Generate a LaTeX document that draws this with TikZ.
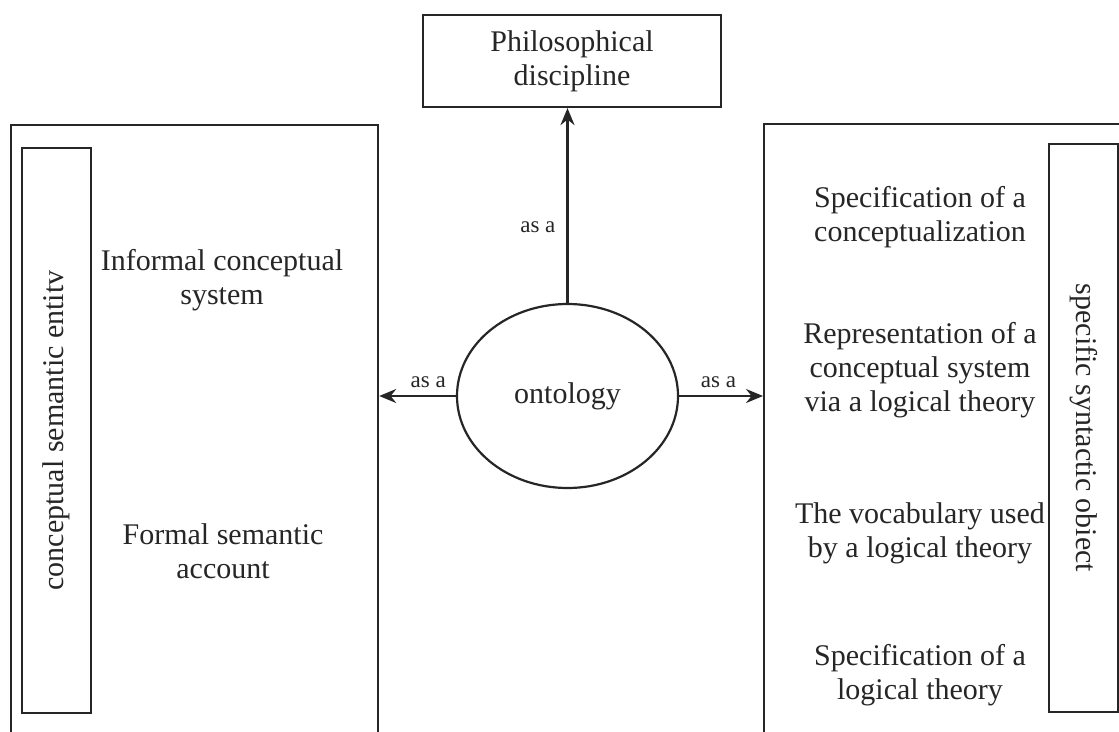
\documentclass[tikz,border=0pt]{standalone}
\usepackage{fontspec}
\setmainfont{Liberation Serif}
\usetikzlibrary{shapes.geometric,arrows.meta}
\definecolor{ink}{HTML}{262626}
\tikzset{
  txt/.style={font=\fontsize{30}{34}\selectfont, align=center, inner sep=0pt, text=ink},
  frame/.style={draw=ink, line width=2.2pt, inner sep=0pt},
  lbl/.style={font=\fontsize{23}{25}\selectfont, inner sep=0pt, text=ink},
  arr/.style={draw=ink, line width=2.2pt, -{Stealth[length=17pt,width=14pt]}}
}
\begin{document}
\begin{tikzpicture}[x=1pt,y=-1pt]
\clip (0,0) rectangle (1119,731);
\fill[white] (0,0) rectangle (1119,731);
% outer boxes (cropped by the picture edge)
\node[frame, anchor=north west, minimum width=367pt, minimum height=660pt] (left) at (10,124) {};
\node[frame, anchor=north west, minimum width=400pt, minimum height=660pt] (right) at (763,123) {};
% inner vertical boxes
\node[frame, txt, rotate=90, minimum width=565pt, minimum height=69pt] (lin) at (56.5,430.5) {conceptual semantic entitv};
\node[frame, txt, rotate=-90, minimum width=568pt, minimum height=69pt] (rin) at (1083.5,428) {specific syntactic obiect};
% top box
\node[frame, txt, minimum width=298pt, minimum height=92pt] (phil) at (572,61) {Philosophical\\discipline};
% ellipse
\node[frame, txt, ellipse, minimum width=221pt, minimum height=184pt] (onto) at (567.5,396) {ontology};
% left texts
\node[txt] (inf) at (222,280) {Informal conceptual\\system};
\node[txt] (form) at (223,551) {Formal semantic\\account};
% right texts
\node[txt] (r1) at (920,217) {Specification of a\\conceptualization};
\node[txt] (r2) at (920,370) {Representation of a\\conceptual system\\via a logical theory};
\node[txt] (r3) at (920,533) {The vocabulary used\\by a logical theory};
\node[txt] (r4) at (920,675) {Specification of a\\logical theory};
% connectors
\draw[arr] (onto.north) -- node[lbl, pos=0.39, anchor=east, xshift=-11pt] (l1) {as a} (onto.north |- phil.south);
\draw[arr] (onto.west) -- node[lbl, pos=0.36, anchor=south, yshift=7pt] (l2) {as a} (onto.west -| left.east);
\draw[arr] (onto.east) -- node[lbl, pos=0.47, anchor=south, yshift=7pt] (l3) {as a} (onto.east -| right.west);
\end{tikzpicture}
\end{document}
